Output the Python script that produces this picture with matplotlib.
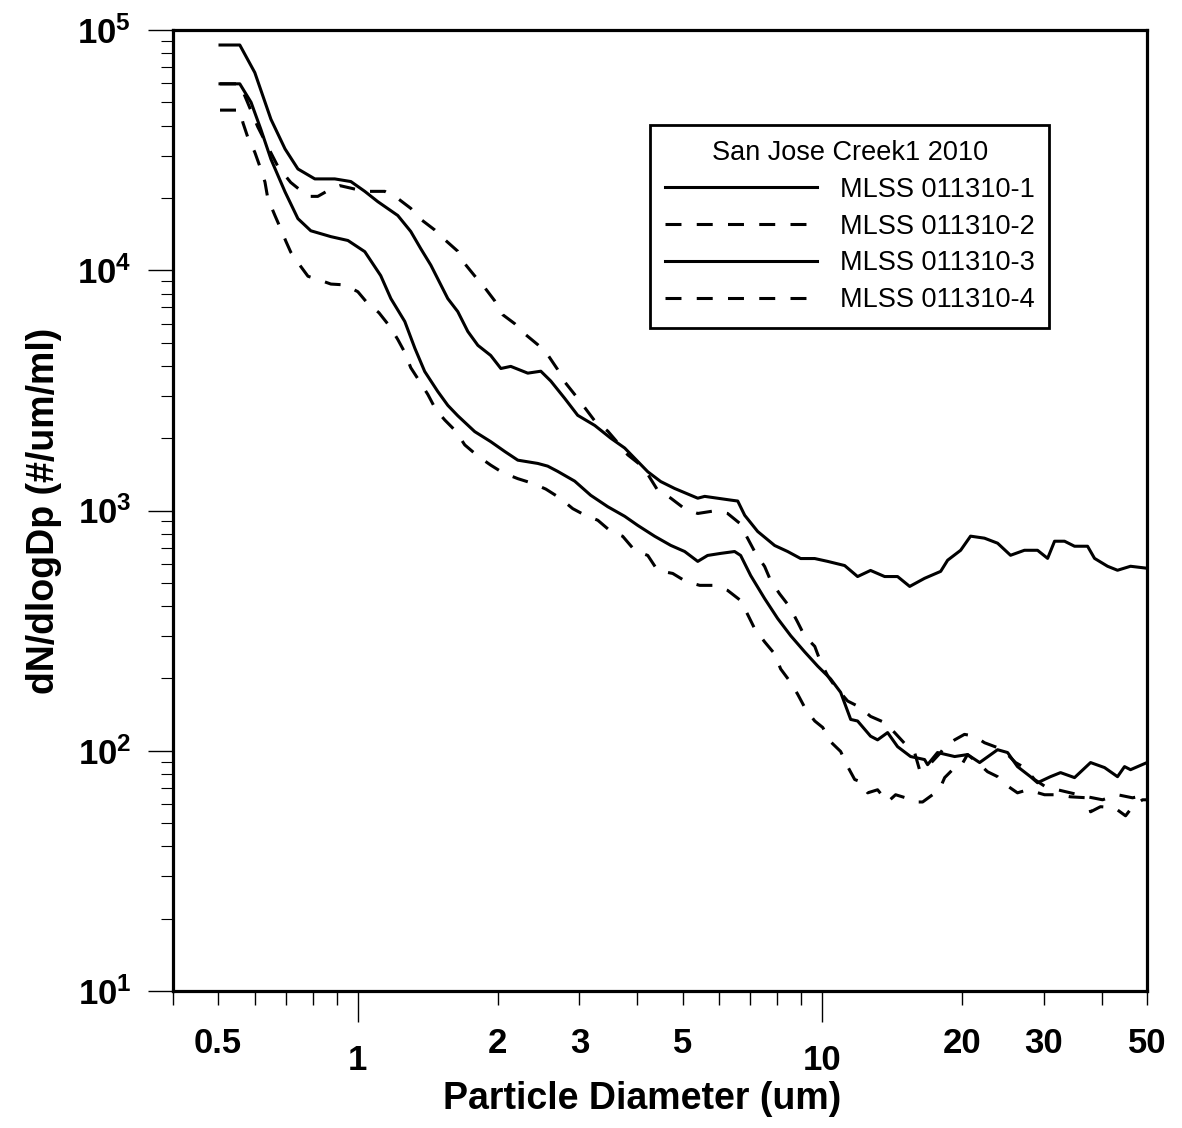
import matplotlib
matplotlib.use("Agg")
import matplotlib.pyplot as plt
from matplotlib.lines import Line2D

plt.rcParams['font.family'] = ['Liberation Sans', 'DejaVu Sans']
plt.rcParams['mathtext.fontset'] = 'custom'
plt.rcParams['mathtext.rm'] = 'Liberation Sans:bold'
plt.rcParams['mathtext.bf'] = 'Liberation Sans:bold'
plt.rcParams['lines.scale_dashes'] = False

# ---------------- data ----------------
series_labels = ["MLSS 011310-1", "MLSS 011310-2", "MLSS 011310-3", "MLSS 011310-4"]
legend_title = "San Jose Creek1 2010"

x1 = [0.505, 0.557, 0.600, 0.650, 0.697, 0.743, 0.808, 0.892, 0.966, 1.035,
      1.104, 1.219, 1.300, 1.366, 1.436, 1.562, 1.641, 1.725, 1.813, 1.932,
      2.032, 2.134, 2.322, 2.477, 2.602, 2.788, 2.974, 3.236, 3.503, 3.754,
      4.209, 4.487, 4.809, 5.393, 5.581, 6.348, 6.574, 6.806, 7.257, 7.895,
      8.420, 8.981, 9.631, 10.27, 11.17, 11.91, 12.70, 13.62, 14.52, 15.42,
      16.60, 17.98, 18.61, 19.85, 20.85, 22.34, 23.84, 25.42, 27.23, 29.06,
      30.55, 31.62, 33.22, 34.91, 37.24, 38.55, 41.12, 43.20, 46.08, 50.0]
y1 = [86600, 86600, 66500, 42500, 32000, 26400, 24000, 24000, 23400, 21300,
      19300, 16900, 14500, 12300, 10500, 7620, 6730, 5560, 4870, 4420,
      3900, 3980, 3730, 3800, 3460, 2930, 2490, 2260, 2000, 1820,
      1450, 1320, 1235, 1125, 1145, 1105, 1095, 955, 818, 715,
      675, 631, 631, 614, 590, 531, 563, 531, 531, 483,
      522, 558, 621, 683, 782, 767, 731, 651, 683, 683,
      632, 745, 745, 710, 710, 632, 586, 564, 586, 575]

x2 = [0.505, 0.557, 0.609, 0.650, 0.673, 0.717, 0.781, 0.820, 0.875, 0.915,
      1.035, 1.143, 1.219, 1.300, 1.366, 1.465, 1.539, 1.641, 1.699, 1.785,
      1.877, 1.971, 2.051, 2.177, 2.299, 2.440, 2.563, 2.693, 2.788, 2.946,
      3.080, 3.236, 3.452, 3.627, 3.811, 4.064, 4.209, 4.420, 4.716, 5.054,
      5.393, 5.866, 6.253, 6.637, 6.907, 7.187, 7.512, 7.739, 8.090, 8.505,
      8.848, 9.162, 9.631, 9.916, 10.27, 10.68, 11.34, 12.03, 12.70, 13.62,
      14.31, 15.26, 15.80, 16.19, 16.85, 17.98, 18.34, 19.27, 20.23, 21.27,
      22.34, 23.84, 24.80, 26.06, 27.23, 28.64, 30.24, 32.09, 34.22, 37.24,
      40.11, 43.20, 46.54, 50.0]
y2 = [59700, 59700, 39500, 30800, 27000, 23200, 20300, 20300, 21800, 22500,
      21300, 21300, 19900, 18100, 16300, 14700, 13400, 12000, 10650, 9470,
      8450, 7460, 6530, 5990, 5390, 4900, 4450, 3860, 3430, 3000,
      2680, 2360, 2140, 1915, 1705, 1545, 1415, 1215, 1126, 1017,
      972, 997, 972, 885, 765, 662, 585, 511, 450, 397,
      343, 300, 272, 234, 205, 184, 161, 152, 139, 131,
      119, 104, 98.3, 83.4, 85.9, 98.3, 104, 111, 117, 115,
      108, 103, 98.3, 89.3, 85.1, 75.9, 70.8, 68.8, 66.8, 64.3,
      62.5, 65.6, 63.7, 65.6]

x3 = [0.505, 0.557, 0.589, 0.618, 0.650, 0.697, 0.743, 0.792, 0.875, 0.952,
      1.035, 1.120, 1.178, 1.262, 1.327, 1.393, 1.486, 1.562, 1.641, 1.785,
      1.932, 2.072, 2.210, 2.440, 2.563, 2.693, 2.930, 3.172, 3.452, 3.754,
      4.005, 4.357, 4.716, 5.054, 5.393, 5.662, 6.043, 6.473, 6.670, 7.011,
      7.512, 8.015, 8.551, 9.162, 9.772, 10.42, 10.95, 11.51, 11.91, 12.70,
      13.15, 13.82, 14.52, 15.49, 16.60, 16.85, 17.70, 19.27, 20.54, 21.81,
      23.84, 25.05, 26.31, 28.06, 29.06, 30.98, 32.57, 34.91, 37.80, 40.51,
      43.20, 44.73, 46.08, 50.0]
y3 = [59700, 59700, 50000, 38700, 29000, 21200, 16400, 14600, 13800, 13300,
      11950, 9500, 7620, 6120, 4730, 3790, 3130, 2740, 2480, 2130,
      1935, 1760, 1620, 1570, 1530, 1455, 1325, 1157, 1037, 946,
      867, 781, 716, 675, 614, 650, 663, 675, 650, 536,
      430, 355, 301, 258, 225, 199, 175, 135, 133, 115,
      111, 119, 104, 94.6, 91.9, 87.5, 98.3, 94.6, 96.4, 89.3,
      101, 98.3, 85.9, 78.0, 73.6, 78.0, 81.1, 77.3, 89.3, 85.1,
      78.0, 85.9, 83.4, 89.3]

x4 = [0.505, 0.557, 0.566, 0.580, 0.600, 0.615, 0.631, 0.640, 0.663, 0.680,
      0.700, 0.717, 0.750, 0.781, 0.828, 0.875, 0.938, 1.000, 1.051, 1.110,
      1.172, 1.219, 1.262, 1.300, 1.359, 1.415, 1.472, 1.539, 1.625, 1.699,
      1.813, 1.932, 2.051, 2.210, 2.380, 2.539, 2.721, 2.902, 3.080, 3.285,
      3.503, 3.717, 3.946, 4.209, 4.420, 4.763, 5.080, 5.445, 5.866, 6.253,
      6.670, 6.907, 7.151, 7.512, 7.895, 8.134, 8.505, 8.848, 9.205, 9.631,
      10.02, 10.42, 10.95, 11.34, 11.74, 12.09, 12.52, 13.15, 13.82, 14.38,
      15.11, 15.80, 16.44, 17.27, 17.98, 18.34, 19.27, 19.85, 20.54, 21.59,
      22.68, 23.84, 24.80, 26.31, 27.66, 30.09, 32.09, 34.22, 37.24, 37.80,
      39.70, 42.56, 44.96, 46.54, 48.90, 50.0]
y4 = [46400, 46400, 41000, 35600, 31000, 27100, 23300, 19900, 16900, 15100,
      13200, 11900, 10500, 9440, 9100, 8760, 8690, 8140, 7260, 6660,
      5830, 5150, 4550, 3930, 3440, 3040, 2630, 2380, 2140, 1875,
      1685, 1545, 1437, 1357, 1297, 1228, 1128, 1018, 957, 911,
      819, 781, 682, 650, 563, 547, 507, 488, 488, 465,
      422, 369, 322, 284, 253, 219, 195, 172, 149, 133,
      125, 109, 99.3, 85.9, 75.9, 74.3, 66.8, 68.8, 61.2, 65.6,
      63.7, 61.2, 61.2, 65.6, 70.8, 77.3, 85.1, 85.9, 96.4, 89.3,
      81.8, 78.0, 72.3, 66.8, 68.8, 65.6, 65.6, 64.3, 63.7, 55.7,
      58.5, 57.9, 53.6, 58.5, 62.5, 62.5]

x_major_ticks = [1, 10]
x_major_labels = ["1", "10"]
x_minor_ticks = [0.4, 0.5, 0.6, 0.7, 0.8, 0.9, 2, 3, 4, 5, 6, 7, 8, 9, 20, 30, 40, 50]
x_minor_labels = ["", "0.5", "", "", "", "", "2", "3", "", "5", "", "", "", "", "20", "30", "", "50"]
y_major_ticks = [10, 100, 1000, 10000, 100000]
y_major_labels = [r"$\mathbf{10^{1}}$", r"$\mathbf{10^{2}}$", r"$\mathbf{10^{3}}$",
                  r"$\mathbf{10^{4}}$", r"$\mathbf{10^{5}}$"]
y_minor_ticks = [m * d for d in (10, 100, 1000, 10000) for m in range(2, 10)]

# ---------------- figure ----------------
W, H = 1182, 1128
fig = plt.figure(figsize=(W / 100, H / 100), dpi=100)
ax = fig.add_axes([173 / W, 1 - 991 / H, (1147 - 173) / W, (991 - 30) / H])

lw = 2.2
dash = (11.5, 11.0)
l1, = ax.plot(x1, y1, color='black', lw=lw, ls='-', label=series_labels[0])
l2, = ax.plot(x2, y2, color='black', lw=lw, ls=(0, dash), label=series_labels[1])
l3, = ax.plot(x3, y3, color='black', lw=lw, ls='-', label=series_labels[2])
l4, = ax.plot(x4, y4, color='black', lw=lw, ls=(0, dash), label=series_labels[3])

ax.set_xscale('log')
ax.set_yscale('log')
ax.set_xlim(0.4, 50)
ax.set_ylim(10, 1e5)

ax.set_xticks(x_major_ticks)
ax.set_xticklabels(x_major_labels)
ax.set_xticks(x_minor_ticks, minor=True)
ax.set_xticklabels(x_minor_labels, minor=True)
ax.set_yticks(y_major_ticks)
ax.set_yticklabels(y_major_labels)
ax.set_yticks(y_minor_ticks, minor=True)
ax.set_yticklabels([], minor=True)

ax.tick_params(axis='x', which='major', direction='out', length=22, width=1,
               pad=16, labelsize=25)
ax.tick_params(axis='x', which='minor', direction='out', length=10, width=1,
               pad=16, labelsize=25)
ax.tick_params(axis='y', which='major', direction='out', length=18, width=1,
               pad=12, labelsize=25)
ax.tick_params(axis='y', which='minor', direction='out', length=9, width=0.8)
for lab in ax.get_xticklabels(which='both'):
    lab.set_fontweight('bold')

for sp in ax.spines.values():
    sp.set_linewidth(2.3)
    sp.set_color('black')

ax.set_xlabel("Particle Diameter (um)", fontsize=27, fontweight='bold')
ax.xaxis.set_label_coords(0.4815, -0.094)
ax.set_ylabel("dN/dlogDp (#/um/ml)", fontsize=27, fontweight='bold')
ax.yaxis.set_label_coords(-0.114, 0.5)

leg = ax.legend(handles=[l1, l2, l3, l4], labels=series_labels, title=legend_title,
                loc='upper left', bbox_to_anchor=((650 - 173) / 974, 1 - (125 - 30) / 961),
                borderaxespad=0, fontsize=19.5, title_fontsize=19.5, handlelength=5.6,
                handletextpad=0.85, labelspacing=0.4, borderpad=0.55,
                fancybox=False, framealpha=1, edgecolor='black')
leg.get_frame().set_linewidth(2.0)

fig.savefig("out.png", dpi=100)
